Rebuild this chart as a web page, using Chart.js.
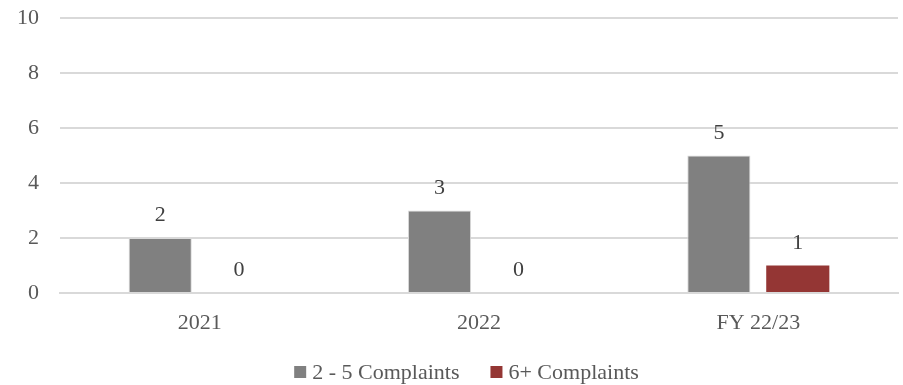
<!DOCTYPE html>
<html>
<head>
<meta charset="utf-8">
<script src="https://cdn.jsdelivr.net/npm/chart.js@4/dist/chart.umd.min.js"></script>
<style>
  html, body { margin: 0; padding: 0; background: #fff; }
  #wrap { width: 903px; height: 385px; }
</style>
</head>
<body>
<div id="wrap"><canvas id="complaints"></canvas></div>
<script>
// ─── DATA ────────────────────────────────────────────────────────────────────
const periods      = ['2021', '2022', 'FY 22/23'];
const twoToFive    = [2, 3, 5];
const sixPlus      = [0, 0, 1];
const yTicks       = [0, 2, 4, 6, 8, 10];

const serif   = "'Liberation Serif', 'DejaVu Serif', serif";
const textCol = '#595959';
const fontPx  = 22;

// value labels above each bar
const barValues = {
  id: 'barValues',
  afterDatasetsDraw(chart) {
    const ctx = chart.ctx;
    ctx.save();
    ctx.font = `${fontPx}px ${serif}`;
    ctx.fillStyle = '#404040';
    ctx.textAlign = 'center';
    ctx.textBaseline = 'alphabetic';
    chart.data.datasets.forEach((ds, i) => {
      chart.getDatasetMeta(i).data.forEach((bar, j) => {
        ctx.fillText(ds.data[j], bar.x, bar.y - 17);
      });
    });
    ctx.restore();
  }
};

// legend row along the bottom edge
const bottomLegend = {
  id: 'bottomLegend',
  afterDraw(chart) {
    const ctx = chart.ctx;
    const box = 12, gap = 6, spacing = 31, cy = 372;
    ctx.save();
    ctx.font = `${fontPx}px ${serif}`;
    ctx.textBaseline = 'middle';
    ctx.textAlign = 'left';
    const items = chart.data.datasets.map(ds => ({
      text: ds.label, color: ds.backgroundColor, w: ctx.measureText(ds.label).width
    }));
    const total = items.reduce((a, it) => a + box + gap + it.w, 0) + spacing * (items.length - 1);
    let x = chart.width / 2 + 15 - total / 2;
    items.forEach(it => {
      ctx.fillStyle = it.color;
      ctx.fillRect(x, cy - box / 2, box, box);
      x += box + gap;
      ctx.fillStyle = textCol;
      ctx.fillText(it.text, x, cy + 1);
      x += it.w + spacing;
    });
    ctx.restore();
  }
};

new Chart(document.getElementById('complaints'), {
  type: 'bar',
  data: {
    labels: periods,
    datasets: [
      {
        label: '2 - 5 Complaints',
        data: twoToFive,
        backgroundColor: '#808080',
        borderColor: '#d9d9d9',
        borderWidth: 1,
        borderSkipped: 'bottom'
      },
      {
        label: '6+ Complaints',
        data: sixPlus,
        backgroundColor: '#943634',
        borderWidth: 0
      }
    ]
  },
  options: {
    responsive: true,
    maintainAspectRatio: false,
    animation: false,
    categoryPercentage: 0.565,
    barPercentage: 0.8,
    layout: { padding: { top: 18, right: 5, left: 0, bottom: 0 } },
    plugins: {
      legend: { display: false },
      tooltip: { enabled: false }
    },
    scales: {
      x: {
        afterFit: (s) => { s.height = 92; s.paddingLeft = 0; s.paddingRight = 0; },
        grid: { display: false },
        border: { color: '#d9d9d9', width: 2 },
        ticks: { color: textCol, font: { family: serif, size: fontPx }, padding: 9 }
      },
      y: {
        min: 0,
        max: 10,
        afterFit: (s) => { s.width = 60; s.paddingTop = 0; s.paddingBottom = 0; },
        afterBuildTicks: (s) => { s.ticks = yTicks.map(v => ({ value: v })); },
        grid: { color: '#d9d9d9', lineWidth: 2, drawTicks: false },
        border: { display: false },
        ticks: { color: textCol, font: { family: serif, size: fontPx }, padding: 21 }
      }
    }
  },
  plugins: [barValues, bottomLegend]
});
</script>
</body>
</html>
